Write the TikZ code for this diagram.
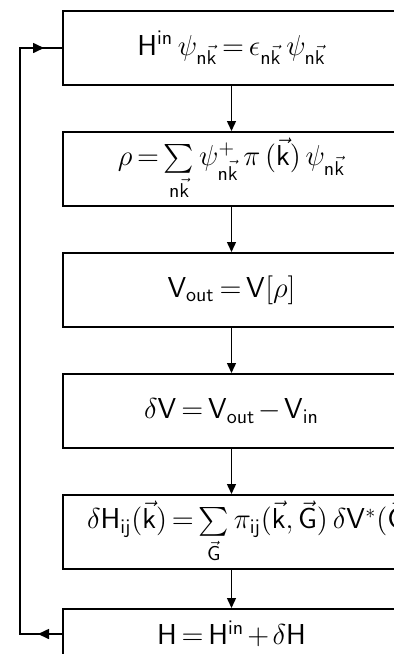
\documentclass[tikz,border=0pt]{standalone}
\usepackage{amsmath,amssymb}
\usepackage{tikz}
\usetikzlibrary{arrows.meta,positioning,decorations.markings}
\newcommand{\kvec}{\vec{\mathsf{k}}}
\newcommand{\Gvec}{\vec{\mathsf{G}}}
\newcommand{\nkvec}{\mathsf{n}\vec{\mathsf{k}}}
\thickmuskip=3mu plus 2mu
\medmuskip=2mu plus 1mu

\begin{document}
\begin{tikzpicture}[
    x=0.5pt,y=-0.5pt,
    node distance=22.5pt,
    stepbox/.style={draw,line width=1pt,minimum width=168.5pt,minimum height=37pt,inner sep=0pt,font=\Large},
    longtext/.style={text width=144.5pt,align=left,inner xsep=12pt},
    arr/.style={-{Triangle[length=5pt,width=4.5pt]},line width=0.7pt},
    fb/.style={line width=0.8pt,postaction={decorate},decoration={markings,
        mark=at position 12pt with {\arrow{Triangle[length=5.5pt,width=5pt]}},
        mark=at position -9pt with {\arrow{Triangle[length=5.5pt,width=5pt]}}}}
]
\useasboundingbox (0,0) rectangle (394,654);
\clip (0,0) rectangle (394,654);

\node[stepbox] (eig) at (231.5,48) {$\mathsf{H}^{\mathsf{in}}\,\psi_{\nkvec} = \epsilon_{\nkvec}\,\psi_{\nkvec}$};
\node[stepbox,below=of eig] (rho) {$\rho = \sum\limits_{\nkvec} \psi^{+}_{\nkvec}\,\pi\,(\kvec)\,\psi_{\nkvec}$};
\node[stepbox,below=of rho] (vout) {$\mathsf{V}_{\mathsf{out}} = \mathsf{V}[\rho]$};
\node[stepbox,below=of vout] (dv) {$\delta\mathsf{V} = \mathsf{V}_{\mathsf{out}} - \mathsf{V}_{\mathsf{in}}$};
\node[stepbox,longtext,below=of dv] (dh) {\mbox{$\delta\mathsf{H}_{\mathsf{ij}}(\kvec) = \sum\limits_{\Gvec} \pi_{\mathsf{ij}}(\kvec,\Gvec)\,\delta\mathsf{V}^{*}(\Gvec)$}};
\node[stepbox,minimum height=25pt,below=19pt of dh] (hnew) {$\mathsf{H} = \mathsf{H}^{\mathsf{in}} + \delta\mathsf{H}$};

\draw[arr] (eig) -- (rho);
\draw[arr] (rho) -- (vout);
\draw[arr] (vout) -- (dv);
\draw[arr] (dv) -- (dh);
\draw[arr] (dh) -- (hnew);

% feedback loop
\coordinate (lb) at (20,0 |- hnew.west);
\coordinate (lt) at (lb |- eig.west);
\draw[fb] (hnew.west) -- (lb) -- (lt) -- (eig.west);
\end{tikzpicture}
\end{document}
